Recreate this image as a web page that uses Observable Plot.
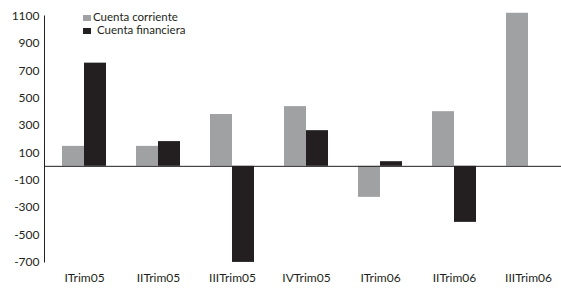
<!DOCTYPE html>
<html>
<head>
<meta charset="utf-8">
<script src="https://cdn.jsdelivr.net/npm/d3@7"></script>
<script src="https://cdn.jsdelivr.net/npm/@observablehq/plot@0.6"></script>
<style>
  html, body { margin: 0; padding: 0; background: #fff; }
  #wrap { position: relative; width: 561px; height: 290px; font-family: Lato, "DejaVu Sans", sans-serif; }
  .leg { position: absolute; font-size: 11.5px; color: #231f20; line-height: 11px; white-space: nowrap; }
  .sw { display: inline-block; width: 8px; height: 6px; margin-right: 2px; vertical-align: 0px; }
</style>
</head>
<body>
<div id="wrap">
  <div class="leg" style="left:83px; top:11px;"><span class="sw" style="background:#a0a1a3"></span>Cuenta corriente</div>
  <div class="leg" style="left:83px; top:24px;"><span class="sw" style="background:#231f20; margin-right:6px"></span>Cuenta financiera</div>
</div>
<script>
const categories = ["ITrim05", "IITrim05", "IIITrim05", "IVTrim05", "ITrim06", "IITrim06", "IIITrim06"];
const cuentaCorriente = [146, 146, 379, 437, -227, 400, 1120];
const cuentaFinanciera = [755, 181, -703, 261, 34, -410, null];
const yTicks = [-700, -500, -300, -100, 100, 300, 500, 700, 900, 1100];

const corr = categories.map((c, i) => ({cat: c, v: cuentaCorriente[i]}));
const fin = categories.map((c, i) => ({cat: c, v: cuentaFinanciera[i]})).filter(d => d.v != null);

const chart = Plot.plot({
  width: 561,
  height: 290,
  marginLeft: 44,
  marginRight: 0,
  marginTop: 15.5,
  marginBottom: 28.5,
  style: {fontFamily: "Lato, 'DejaVu Sans', sans-serif", fontSize: "12px", color: "#231f20", background: "transparent"},
  x: {domain: categories, range: [60, 551], paddingInner: 0.409, paddingOuter: 0, tickSize: 0, tickPadding: 11, label: null},
  y: {domain: [-700, 1100], ticks: yTicks, tickFormat: d => String(d), tickSize: 0, tickPadding: 5, label: null, line: true},
  marks: [
    Plot.barY(corr, {x: "cat", y: "v", fill: "#a0a1a3", insetRight: 22}),
    Plot.barY(fin, {x: "cat", y: "v", fill: "#231f20", insetLeft: 22}),
    Plot.ruleY([0], {stroke: "#231f20", strokeWidth: 1})
  ]
});
chart.style.position = "absolute";
chart.style.left = "0";
chart.style.top = "0";
const wrap = document.getElementById("wrap");
wrap.insertBefore(chart, wrap.firstChild);
</script>
</body>
</html>
